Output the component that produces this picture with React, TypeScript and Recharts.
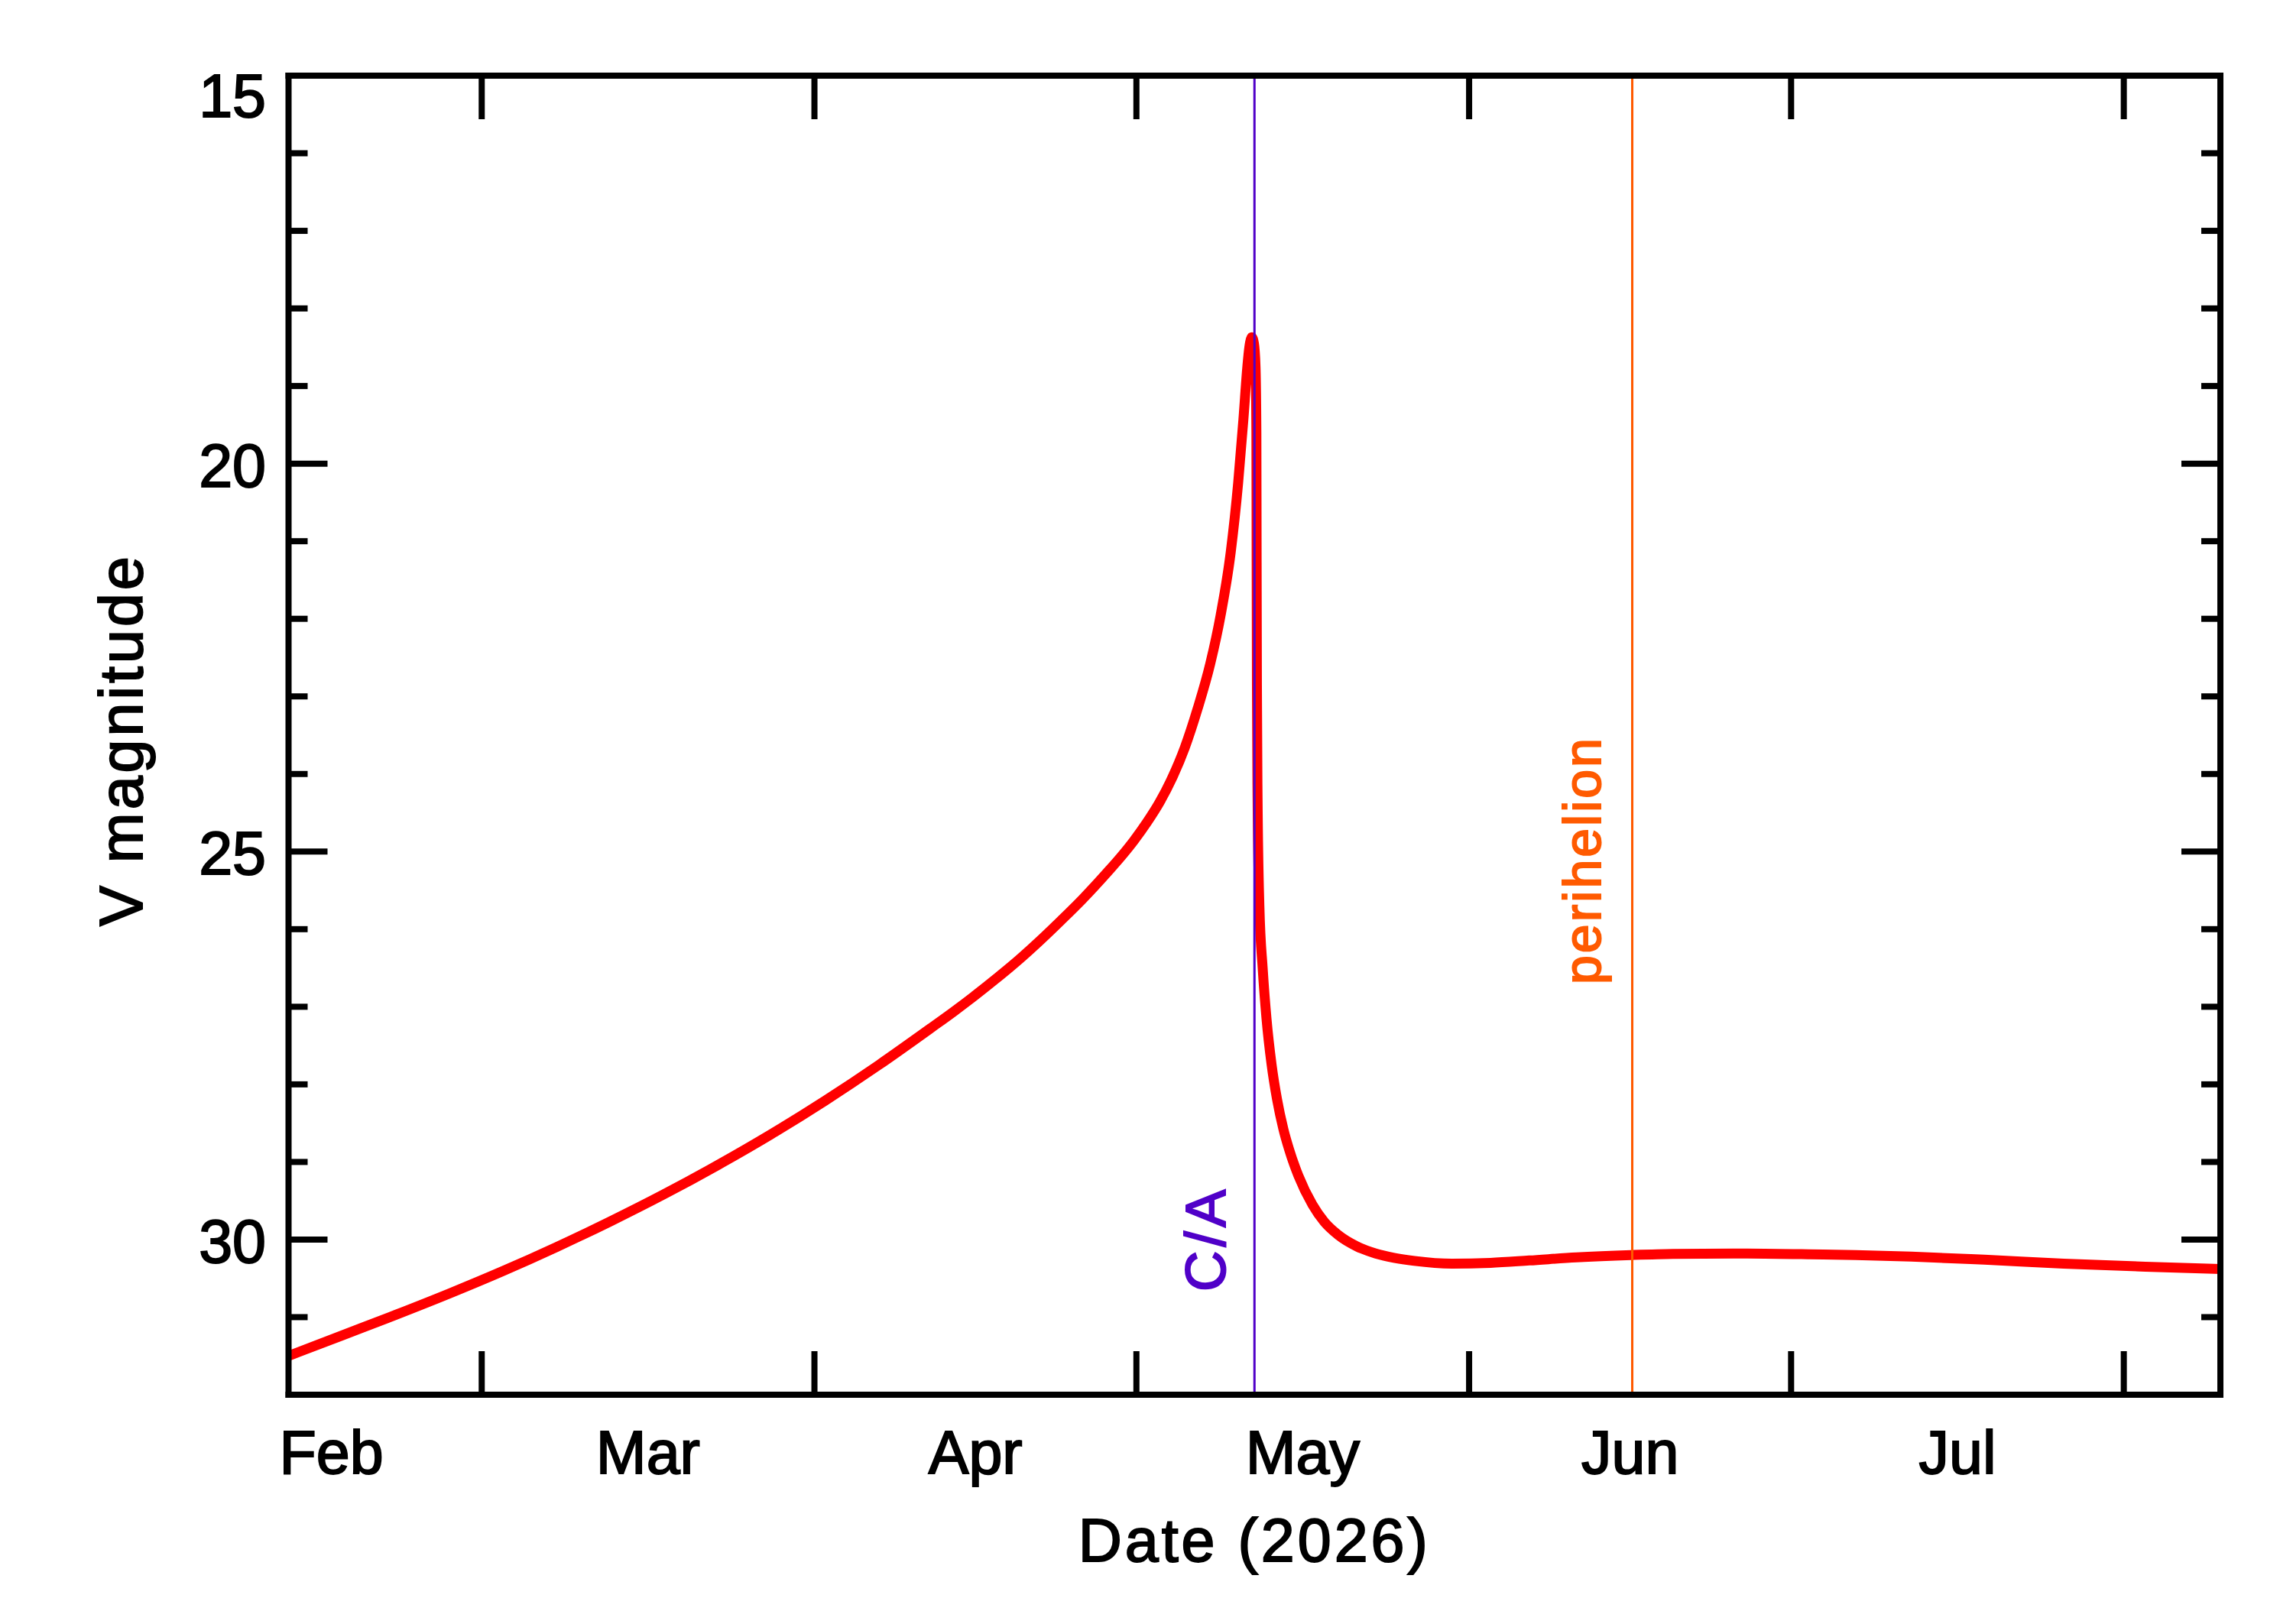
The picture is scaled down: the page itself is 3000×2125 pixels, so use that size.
import React from 'react';
import { LineChart, Line, XAxis, YAxis, ReferenceLine } from 'recharts';

// Day of year 2026 (Jan 1 = 1) and predicted V magnitude
const days = [
  42, 47, 52, 57, 62, 67, 72, 77, 82, 87, 92, 97, 102, 104, 106, 108, 110, 112,
  114, 116, 118.4, 119.6, 120.76, 122, 123.14, 124.3, 125.51, 126.7, 127.88,
  128.84, 129.79, 130.48, 130.97, 131.33, 131.52, 131.68, 131.75, 131.95, 132.1,
  132.18, 132.2, 132.23, 132.29, 132.46, 132.77, 133.12, 133.6, 134.1, 134.7,
  135.23, 136.1, 137.4, 138.5, 139.8, 141.5, 143.3, 145, 146.9, 150.4, 154,
  157.6, 162, 167.1, 171, 176.6, 183.7, 188, 193.2, 200, 207.4, 215, 222
];
const magnitudes = [
  31.5, 31.235, 30.97, 30.695, 30.405, 30.095, 29.765, 29.415, 29.04, 28.64,
  28.21, 27.75, 27.26, 27.06, 26.85, 26.63, 26.4, 26.15, 25.885, 25.61, 25.25,
  25.06, 24.86, 24.62, 24.37, 24.06, 23.66, 23.16, 22.58, 21.96, 21.14, 20.25,
  19.43, 18.76, 18.5, 18.39, 18.37, 18.45, 18.75, 19.6, 21.0, 22.85, 24.3, 25.7,
  26.51, 27.15, 27.75, 28.19, 28.58, 28.84, 29.18, 29.55, 29.77, 29.94, 30.085,
  30.18, 30.235, 30.275, 30.31, 30.3, 30.27, 30.23, 30.2, 30.185, 30.18, 30.19,
  30.2, 30.22, 30.26, 30.31, 30.35, 30.38
];

const monthStarts = [60, 91, 121, 152, 182, 213];
const monthLabelDays = [46, 75.5, 106, 136.5, 167, 197.5];
const monthLabels = ['Feb', 'Mar', 'Apr', 'May', 'Jun', 'Jul'];
const magTicks = [15, 16, 17, 18, 19, 20, 21, 22, 23, 24, 25, 26, 27, 28, 29, 30, 31];
const majorMagTicks = [15, 20, 25, 30];

const closeApproachDay = 132;
const perihelionDay = 167.2;

const data = days.map((day, i) => ({ day, mag: magnitudes[i] }));

const FONT = "'Liberation Sans', Arial, sans-serif";
const AXIS = { stroke: '#000', strokeWidth: 8, strokeLinecap: 'square' as const };
const CA_COLOR = '#5000c8';
const PERI_COLOR = '#ff5a00';

const BottomTick = (props: any) => {
  const { x, y, payload } = props;
  const v = payload.value;
  if (monthStarts.includes(v)) {
    return <line x1={x} x2={x} y1={y} y2={y - 57} stroke="#000" strokeWidth={8} />;
  }
  const idx = monthLabelDays.indexOf(v);
  return (
    <text x={x} y={y + 103} textAnchor="middle" fontFamily={FONT} fontSize={79} fill="#000" stroke="#000" strokeWidth={2}>
      {monthLabels[idx]}
    </text>
  );
};

const TopTick = (props: any) => {
  const { x, y } = props;
  return <line x1={x} x2={x} y1={y} y2={y + 57} stroke="#000" strokeWidth={8} />;
};

const LeftTick = (props: any) => {
  const { x, y, payload } = props;
  const v = payload.value;
  const major = majorMagTicks.includes(v);
  return (
    <g>
      <line x1={x} x2={x + (major ? 51 : 25)} y1={y} y2={y} stroke="#000" strokeWidth={8} />
      {major && (
        <text
          x={x - 29.5}
          y={y + (v === 15 ? 54 : 30)}
          textAnchor="end"
          fontFamily={FONT}
          fontSize={79}
          fill="#000"
          stroke="#000"
          strokeWidth={2}
        >
          {v}
        </text>
      )}
    </g>
  );
};

const RightTick = (props: any) => {
  const { x, y, payload } = props;
  const major = majorMagTicks.includes(payload.value);
  return <line x1={x} x2={x - (major ? 51 : 25)} y1={y} y2={y} stroke="#000" strokeWidth={8} />;
};

const DateTitle = (props: any) => {
  const vb = props.viewBox;
  return (
    <text
      x={vb.x + vb.width / 2}
      y={vb.y + 218}
      textAnchor="middle"
      fontFamily={FONT}
      fontSize={79}
      letterSpacing={4}
      fill="#000"
      stroke="#000"
      strokeWidth={2}
    >
      Date (2026)
    </text>
  );
};

const MagTitle = (props: any) => {
  const vb = props.viewBox;
  const x = vb.x + vb.width - 191.5;
  const y = vb.y + 869;
  return (
    <text
      x={x}
      y={y}
      transform={`rotate(-90, ${x}, ${y})`}
      textAnchor="middle"
      fontFamily={FONT}
      fontSize={79}
      letterSpacing={4}
      fill="#000"
      stroke="#000"
      strokeWidth={2}
    >
      V magnitude
    </text>
  );
};

const CaLabel = (props: any) => {
  const vb = props.viewBox;
  const x = vb.x - 38;
  const y = vb.y + vb.height - 135;
  return (
    <text
      x={x}
      y={y}
      transform={`rotate(-90, ${x}, ${y})`}
      textAnchor="start"
      fontFamily={FONT}
      fontSize={74}
      letterSpacing={5}
      fill={CA_COLOR}
      stroke={CA_COLOR}
      strokeWidth={2}
    >
      C/A
    </text>
  );
};

const PeriLabel = (props: any) => {
  const vb = props.viewBox;
  const x = vb.x - 41.5;
  const y = vb.y + vb.height - 537;
  return (
    <text
      x={x}
      y={y}
      transform={`rotate(-90, ${x}, ${y})`}
      textAnchor="start"
      fontFamily={FONT}
      fontSize={68}
      letterSpacing={3}
      fill={PERI_COLOR}
      stroke={PERI_COLOR}
      strokeWidth={2}
    >
      perihelion
    </text>
  );
};

const App = () => {
  return (
    <div style={{ width: 2992, height: 2117, background: '#fff' }}>
      <LineChart
        width={2992}
        height={2117}
        data={data}
        margin={{ top: 90, right: 94, bottom: 299, left: 368.5 }}
      >
        <XAxis
          xAxisId="b"
          type="number"
          dataKey="day"
          domain={[42, 222]}
          allowDataOverflow
          ticks={[...monthStarts, ...monthLabelDays]}
          interval={0}
          height={1}
          tickSize={0}
          tickMargin={0}
          tickLine={false}
          axisLine={AXIS}
          tick={BottomTick}
          label={DateTitle}
        />
        <XAxis
          xAxisId="t"
          orientation="top"
          type="number"
          dataKey="day"
          domain={[42, 222]}
          allowDataOverflow
          ticks={monthStarts}
          interval={0}
          height={1}
          tickSize={0}
          tickMargin={0}
          tickLine={false}
          axisLine={AXIS}
          tick={TopTick}
        />
        <YAxis
          yAxisId="l"
          type="number"
          domain={[15, 32]}
          reversed
          allowDataOverflow
          ticks={magTicks}
          interval={0}
          width={1}
          tickSize={0}
          tickMargin={0}
          tickLine={false}
          axisLine={AXIS}
          tick={LeftTick}
          label={MagTitle}
        />
        <YAxis
          yAxisId="r"
          orientation="right"
          type="number"
          domain={[15, 32]}
          reversed
          allowDataOverflow
          ticks={magTicks}
          interval={0}
          width={1}
          tickSize={0}
          tickMargin={0}
          tickLine={false}
          axisLine={AXIS}
          tick={RightTick}
        />
        <Line
          xAxisId="b"
          yAxisId="l"
          type="monotone"
          dataKey="mag"
          stroke="#ff0000"
          strokeWidth={13}
          strokeLinejoin="round"
          dot={false}
          activeDot={false}
          isAnimationActive={false}
        />
        <ReferenceLine xAxisId="b" yAxisId="l" x={closeApproachDay} stroke={CA_COLOR} strokeWidth={3} label={CaLabel} />
        <ReferenceLine xAxisId="b" yAxisId="l" x={perihelionDay} stroke={PERI_COLOR} strokeWidth={3} label={PeriLabel} />
      </LineChart>
    </div>
  );
};

export default App;
